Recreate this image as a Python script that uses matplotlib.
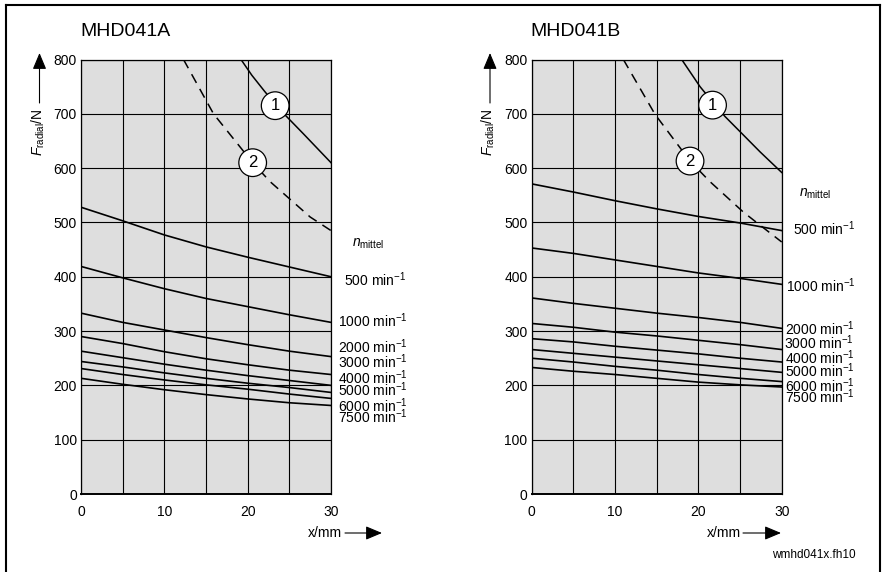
import matplotlib
matplotlib.use('Agg')
import matplotlib.pyplot as plt
from matplotlib.lines import Line2D
from matplotlib.patches import FancyArrowPatch

plt.rcParams['font.family'] = ['Liberation Sans', 'DejaVu Sans']
plt.rcParams['mathtext.fontset'] = 'custom'
plt.rcParams['mathtext.rm'] = 'Liberation Sans'
plt.rcParams['mathtext.it'] = 'Liberation Sans:italic'
plt.rcParams['mathtext.bf'] = 'Liberation Sans:bold'

# ---------------- data ----------------
x_pos = [0, 5, 10, 15, 20, 25, 30]
speeds = ['500', '1000', '2000', '3000', '4000', '5000', '6000', '7500']

A_500 = [528, 503, 477, 455, 436, 418, 400]
A_1000 = [419, 398, 378, 360, 345, 330, 316]
A_2000 = [333, 316, 302, 288, 275, 263, 253]
A_3000 = [290, 277, 262, 249, 238, 228, 220]
A_4000 = [263, 251, 239, 228, 218, 209, 200]
A_5000 = [244, 234, 223, 213, 204, 196, 187]
A_6000 = [231, 220, 210, 201, 193, 184, 176]
A_7500 = [213, 202, 192, 183, 175, 168, 163]

B_500 = [571, 556, 540, 525, 511, 499, 485]
B_1000 = [453, 443, 431, 419, 407, 397, 386]
B_2000 = [361, 351, 342, 333, 325, 316, 305]
B_3000 = [314, 307, 298, 291, 283, 275, 266]
B_4000 = [286, 280, 272, 265, 258, 250, 243]
B_5000 = [266, 259, 252, 245, 238, 231, 224]
B_6000 = [250, 243, 235, 228, 220, 213, 207]
B_7500 = [233, 226, 220, 213, 206, 201, 197]

A_c1_x = [19.2, 20.5, 22.0, 23.3, 24.1, 26.7, 30]
A_c1_y = [800, 771, 742, 718, 704, 663, 610]
A_c2_x = [12.3, 15.0, 15.9, 20.6, 22.7, 27.5, 30]
A_c2_y = [800, 725, 700, 610, 575, 510, 485]

B_c1_x = [18.0, 20.2, 21.7, 23.2, 25.4, 27.4, 30]
B_c1_y = [800, 750, 722, 695, 661, 630, 592]
B_c2_x = [11.0, 14.8, 19.0, 21.4, 25.4, 27.4, 30]
B_c2_y = [800, 699, 613, 575, 519, 495, 464]

x_ticks = [0, 5, 10, 15, 20, 25, 30]
x_ticklabels = ['0', '', '10', '', '20', '', '30']
y_ticks = [0, 100, 200, 300, 400, 500, 600, 700, 800]

W, H = 882, 572
fig = plt.figure(figsize=(W / 100, H / 100), dpi=100)

ARROW = '-|>,head_length=1.0,head_width=0.42'


def fx(px):
    return px / W


def fy(py):
    return 1 - py / H


def make_axes(left_px, title, series, c1, c2, circ1, circ2,
              lab_x, lab_y, nm_pos, ylab_x, arrow_x, xl_text, xl_arrow):
    ax = fig.add_axes([fx(left_px), fy(494), 250 / W, 434.5 / H])
    ax.set_facecolor('#dedede')
    ax.set_xlim(0, 30)
    ax.set_ylim(0, 800)
    ax.set_xticks(x_ticks)
    ax.set_xticklabels(x_ticklabels)
    ax.set_yticks(y_ticks)
    ax.tick_params(length=0, labelsize=10, pad=3)
    ax.tick_params(axis='x', pad=8)
    ax.grid(True, color='black', lw=0.8)
    ax.set_axisbelow(True)
    for s in ax.spines.values():
        s.set_color('black')
        s.set_linewidth(0.9)
    ax.spines['bottom'].set_linewidth(1.4)

    for vals in series:
        ax.plot(x_pos, vals, color='black', lw=1.2, solid_joinstyle='round',
                zorder=3)
    ax.plot(c1[0], c1[1], color='black', lw=1.1, zorder=3,
            solid_joinstyle='round')
    ax.plot(c2[0], c2[1], color='black', lw=1.1, ls=(0, (6.5, 4.5)),
            zorder=3)
    for (cx, cy), t in ((circ1, '1'), (circ2, '2')):
        ax.text(cx, cy, t, ha='center', va='center', fontsize=12, zorder=5,
                bbox=dict(boxstyle='circle,pad=0.38', fc='white',
                          ec='black', lw=0.9))

    for sp, lx, ly in zip(speeds, lab_x, lab_y):
        ax.text(lx, ly, sp + r' min$^{\mathrm{-}1}$', ha='left', va='baseline',
                fontsize=10, clip_on=False)
    ax.text(nm_pos[0], nm_pos[1], r'$n_{\mathrm{mittel}}$', ha='left',
            va='baseline', fontsize=10, clip_on=False)

    fig.text(fx(left_px - 1), fy(32), title, fontsize=14, ha='left',
             va='center')
    fig.text(fx(ylab_x), fy(132), r'$F_{\mathrm{radial}}$/N', rotation=90,
             ha='center', va='center', fontsize=10)
    fig.add_artist(FancyArrowPatch((fx(arrow_x), fy(103)),
                                   (fx(arrow_x), fy(53)),
                                   transform=fig.transFigure,
                                   arrowstyle=ARROW, shrinkA=0, shrinkB=0,
                                   mutation_scale=10, lw=0.8, color='black'))
    fig.text(fx(xl_text), fy(533), 'x/mm', ha='left', va='center',
             fontsize=10)
    fig.add_artist(FancyArrowPatch((fx(xl_arrow[0]), fy(533)),
                                   (fx(xl_arrow[1]), fy(533)),
                                   transform=fig.transFigure,
                                   arrowstyle=ARROW, shrinkA=0, shrinkB=0,
                                   mutation_scale=10, lw=0.8, color='black'))
    return ax


make_axes(81, 'MHD041A',
          [A_500, A_1000, A_2000, A_3000, A_4000, A_5000, A_6000, A_7500],
          (A_c1_x, A_c1_y), (A_c2_x, A_c2_y), (23.3, 715), (20.6, 610),
          [31.6, 30.9, 30.8, 30.8, 30.8, 30.8, 30.8, 30.8],
          [383, 308, 259, 231.5, 202.6, 180.5, 151.6, 131.3],
          (32.5, 455), 38, 39.5, 308, (345, 382))

make_axes(531.7, 'MHD041B',
          [B_500, B_1000, B_2000, B_3000, B_4000, B_5000, B_6000, B_7500],
          (B_c1_x, B_c1_y), (B_c2_x, B_c2_y), (21.7, 716), (19.0, 613),
          [31.3, 30.5, 30.4, 30.3, 30.4, 30.4, 30.4, 30.4],
          [477, 372.6, 292.8, 266.5, 238.8, 216, 188.4, 168],
          (32.1, 547.5), 488.5, 490, 707, (743, 781))

fig.text(fx(772), fy(555), 'wmhd041x.fh10', fontsize=8.5, ha='left',
         va='center')

# outer frame (open at bottom)
for xs, ys in (([6, 6], [572, 5]), ([6, 880], [5, 5]), ([880, 880], [5, 572])):
    fig.add_artist(Line2D([fx(v) for v in xs], [fy(v) for v in ys],
                          transform=fig.transFigure, color='black', lw=1.5))

fig.savefig('out.png', dpi=100)
